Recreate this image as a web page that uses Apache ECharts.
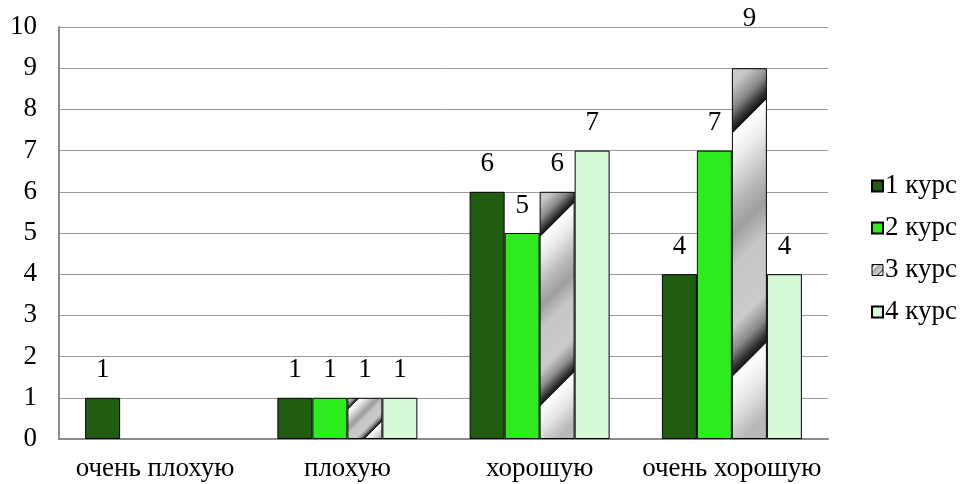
<!DOCTYPE html>
<html><head><meta charset="utf-8">
<script src="https://cdn.jsdelivr.net/npm/echarts@6/dist/echarts.min.js"></script>
<style>html,body{margin:0;padding:0;background:#fff}#c{width:962px;height:484px}</style>
</head><body><div id="c"></div>
<script>
const categories = ['очень плохую', 'плохую', 'хорошую', 'очень хорошую'];
const seriesNames = ['1 курс', '2 курс', '3 курс', '4 курс'];
const kurs1 = [1, 1, 6, 4];
const kurs2 = [null, 1, 5, 7];
const kurs3 = [null, 1, 6, 9];
const kurs4 = [null, 1, 7, 4];
const yTicks = [0, 10, 1];

const FONT = '"Liberation Serif", "Times New Roman", serif';
const FS = 27;
const BW = 35;
const chart = echarts.init(document.getElementById('c'));

function silverGrad(ex, ey) {
  const cyc = [[0,'#ffffff'],[0.12,'#ececec'],[0.3,'#b8b8b8'],[0.42,'#9e9e9e'],[0.55,'#c6c6c6'],[0.8,'#cacaca'],[0.9,'#8a8a8a'],[0.97,'#303030'],[1,'#151515']];
  const stops = [];
  const P = 0.6, start = 0.16 - P;
  for (let k = 0; k < 3; k++) {
    const base = start + k * P;
    cyc.forEach(([s, c], i) => {
      let t = base + s * P;
      if (i === 0) t += 0.003;
      if (t >= 0 && t <= 1) stops.push({offset: t, color: c});
    });
  }
  stops.sort((a,b)=>a.offset-b.offset);
  return new echarts.graphic.LinearGradient(0, 0, ex, ey, stops);
}

const labelCfg = {show: true, position: 'top', distance: 14, color: '#000', fontFamily: FONT, fontSize: FS};
const border = {borderColor: '#000', borderWidth: 1};

function build(k3data) {
  return {
    animation: false,
    grid: {left: 59, right: 134, top: 27, bottom: 45},
    legend: {
      orient: 'vertical', left: 866, top: 167, itemWidth: 11, itemHeight: 11, itemGap: 14, icon: 'rect',
      textStyle: {fontFamily: FONT, fontSize: FS, lineHeight: 28, color: '#000', padding: [0,0,0,-3]},
      data: seriesNames.map((n, i) => ({name: n, itemStyle: i === 2 ? {color: silverGrad(1,1), borderColor:'#000', borderWidth:1} : undefined}))
    },
    xAxis: {
      type: 'category', data: categories,
      axisLine: {lineStyle: {color: '#8c8c8c', width: 2}},
      axisTick: {show: false},
      axisLabel: {fontFamily: FONT, fontSize: FS, color: '#000', margin: 16, interval: 0}
    },
    yAxis: {
      type: 'value', min: yTicks[0], max: yTicks[1], interval: yTicks[2],
      axisLine: {show: true, lineStyle: {color: '#8c8c8c', width: 2}},
      axisTick: {show: false},
      splitLine: {lineStyle: {color: '#9a9a9a', width: 1}},
      axisLabel: {fontFamily: FONT, fontSize: FS, color: '#000', margin: 22}
    },
    series: [
      {name: seriesNames[0], type: 'bar', barWidth: BW, barGap: '0%', data: kurs1, itemStyle: Object.assign({color: '#215d10'}, border), label: labelCfg},
      {name: seriesNames[1], type: 'bar', barWidth: BW, barGap: '0%', data: kurs2, itemStyle: Object.assign({color: '#2eeb1e'}, border), label: labelCfg},
      {name: seriesNames[2], type: 'bar', barWidth: BW, barGap: '0%', data: k3data, itemStyle: Object.assign({color: '#c8c8c8'}, border), label: labelCfg},
      {name: seriesNames[3], type: 'bar', barWidth: BW, barGap: '0%', data: kurs4, itemStyle: Object.assign({color: '#d6f8d6'}, border), label: labelCfg}
    ]
  };
}

chart.setOption(build(kurs3));
const y0 = chart.convertToPixel({yAxisIndex: 0}, 0);
const topVal = Math.max(...kurs3.filter(v => v != null));
const k3 = kurs3.map(v => {
  if (v == null) return null;
  const h = Math.abs(y0 - chart.convertToPixel({yAxisIndex: 0}, v));
  const w = BW;
  const item = {value: v, itemStyle: {color: silverGrad((w + h) / (2 * w), (w + h) / (2 * h))}};
  if (v === topVal) item.label = {distance: 36};
  return item;
});
chart.setOption(build(k3));
</script></body></html>
